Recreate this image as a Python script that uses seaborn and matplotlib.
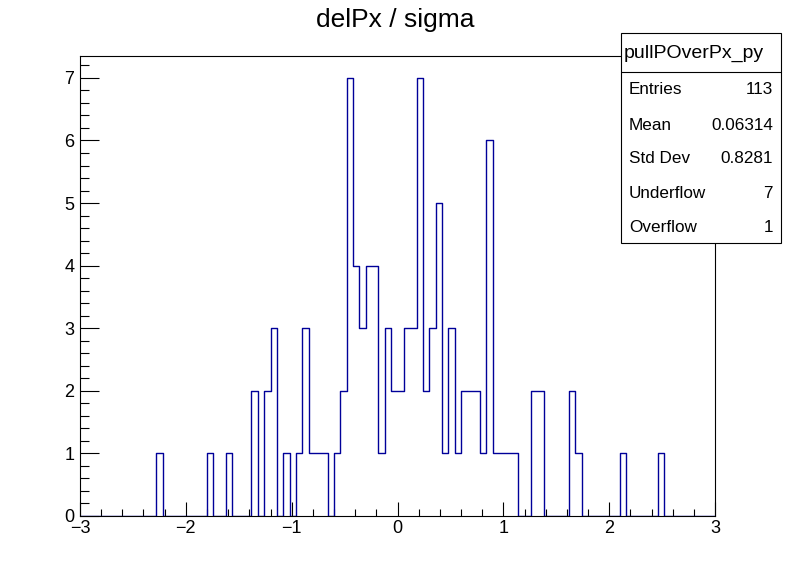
import matplotlib
matplotlib.use("Agg")
import matplotlib.pyplot as plt
from matplotlib.ticker import MultipleLocator
from matplotlib.patches import Rectangle
from matplotlib.lines import Line2D
import seaborn as sns
import pandas as pd
import numpy as np

# --- histogram data: 100 bins on [-3, 3] ---
bin_edges = list(np.linspace(-3, 3, 101))
counts = [
    0, 0, 0, 0, 0, 0, 0, 0, 0, 0,
    0, 0, 1, 0, 0, 0, 0, 0, 0, 0,
    1, 0, 0, 1, 0, 0, 0, 2, 0, 2,
    3, 0, 1, 0, 1, 3, 1, 1, 1, 0,
    1, 2, 7, 4, 3, 4, 4, 1, 3, 2,
    2, 3, 3, 7, 2, 3, 5, 1, 3, 1,
    2, 2, 2, 1, 6, 1, 1, 1, 1, 0,
    0, 2, 2, 0, 0, 0, 0, 2, 1, 0,
    0, 0, 0, 0, 0, 1, 0, 0, 0, 0,
    0, 1, 0, 0, 0, 0, 0, 0, 0, 0,
]
hist_name = "pullPOverPx_py"
stat_labels = ["Entries", "Mean", "Std Dev", "Underflow", "Overflow"]
stat_values = ["113", "0.06314", "0.8281", "7", "1"]

sns.set_style("ticks")
plt.rcParams["font.family"] = ["Liberation Sans", "DejaVu Sans"]
plt.rcParams["text.color"] = "black"
plt.rcParams["xtick.color"] = "black"
plt.rcParams["ytick.color"] = "black"

fig = plt.figure(figsize=(7.96, 5.72), dpi=100)
ax = fig.add_axes([80 / 796, 56 / 572, 635 / 796, 460 / 572])

edges = np.array(bin_edges)
df = pd.DataFrame({"x": 0.5 * (edges[:-1] + edges[1:]), "w": counts})
sns.histplot(data=df, x="x", weights="w", bins=bin_edges, element="step",
             fill=False, color="#000099", linewidth=1.0, ax=ax)

ax.set_xlim(-3, 3)
ax.set_ylim(0, 7.35)
ax.set_xlabel("")
ax.set_ylabel("")
ax.xaxis.set_major_locator(MultipleLocator(1))
ax.xaxis.set_minor_locator(MultipleLocator(0.2))
ax.yaxis.set_major_locator(MultipleLocator(1))
ax.yaxis.set_minor_locator(MultipleLocator(0.2))
ax.tick_params(axis="x", which="major", direction="in", length=10, width=0.8,
               labelsize=13, pad=3, colors="black")
ax.tick_params(axis="x", which="minor", direction="in", length=5, width=0.8, colors="black")
ax.tick_params(axis="y", which="major", direction="in", length=13.5, width=0.8,
               labelsize=13, pad=4, colors="black")
ax.tick_params(axis="y", which="minor", direction="in", length=6.5, width=0.8, colors="black")
for s in ax.spines.values():
    s.set_visible(True)
    s.set_linewidth(0.8)
    s.set_color("black")

fig.text(0.496, 1 - 20 / 572, "delPx / sigma", ha="center", va="center",
         fontsize=19, color="black")

# stats box
bx0, bx1 = 621 / 796, 781 / 796
by_top, by_bot = 1 - 33 / 572, 1 - 243 / 572
fig.patches.append(Rectangle((bx0, by_bot), bx1 - bx0, by_top - by_bot,
                             transform=fig.transFigure, facecolor="white",
                             edgecolor="black", linewidth=0.8, zorder=5))
sep_y = 1 - 72 / 572
fig.lines.append(Line2D([bx0, bx1], [sep_y, sep_y], transform=fig.transFigure,
                        color="black", linewidth=0.8, zorder=6))
fig.text(694 / 796, 1 - 53 / 572, hist_name, ha="center", va="center",
         fontsize=14, color="black", zorder=7)
row_y = [90, 125, 159, 194, 228]
for lab, val, yy in zip(stat_labels, stat_values, row_y):
    fig.text(629 / 796, 1 - yy / 572, lab, ha="left", va="center",
             fontsize=12.3, color="black", zorder=7)
    fig.text(773 / 796, 1 - yy / 572, val, ha="right", va="center",
             fontsize=12.3, color="black", zorder=7)

fig.savefig("out.png", dpi=100)
